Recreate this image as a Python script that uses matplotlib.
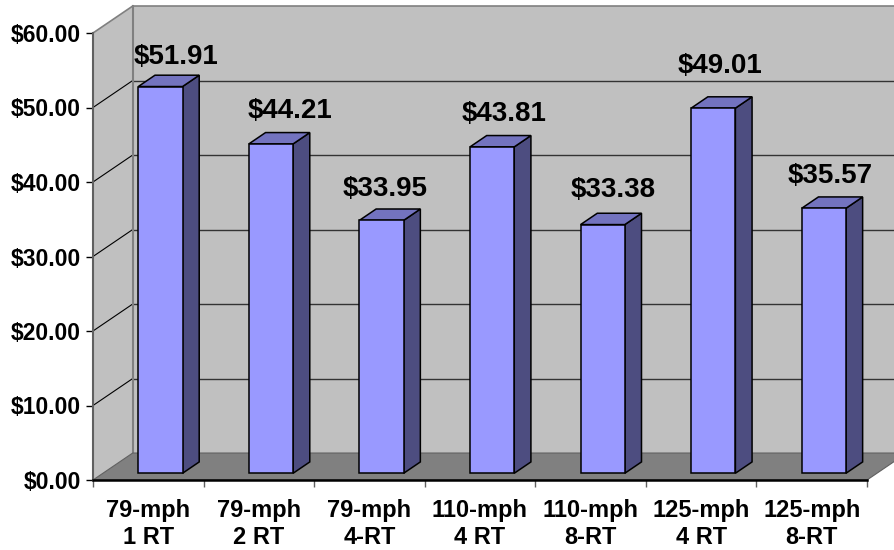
import matplotlib.pyplot as plt
from matplotlib.patches import Polygon, Rectangle

# Cost per trip by service option
categories = ['79-mph\n1 RT', '79-mph\n2 RT', '79-mph\n4-RT', '110-mph\n4 RT',
              '110-mph\n8-RT', '125-mph\n4 RT', '125-mph\n8-RT']
costs = [51.91, 44.21, 33.95, 43.81, 33.38, 49.01, 35.57]
y_ticks = [0, 10, 20, 30, 40, 50, 60]

# hand placement of each value label relative to its bar's front top
label_dx = [0.138, 0.172, 0.034, 0.109, 0.099, 0.063, 0.061]
label_dy = [3.05, 3.45, 3.22, 3.49, 3.66, 4.70, 3.44]

plt.rcParams['font.family'] = ['Liberation Sans', 'DejaVu Sans']

# oblique "3D" look: depth offset of the walls, in data units
DX, DY = 0.359, 3.62
YMAX = 60
n = len(categories)

# bar layout inside each category slot
bar_off = 0.32      # front-left edge, from the slot start
bar_w = 0.40
front_f = 0.25      # depth of the bar's front face (fraction of wall depth)
bar_f = 0.42        # bar depth (fraction of wall depth)

FRONT = '#9999FF'
TOP = '#7373BF'
SIDE = '#4D4D80'
WALL = '#C0C0C0'
FLOOR = '#808080'
EDGE = '#808080'

fig = plt.figure(figsize=(8.95, 5.5), dpi=100)
ax = fig.add_axes([93 / 895, 70 / 550, 774 / 895, 447 / 550])
ax.set_xlim(0, n)
ax.set_ylim(0, YMAX)
ax.patch.set_visible(False)

def poly(pts, fc, ec='none', lw=0, z=1):
    ax.add_patch(Polygon(pts, closed=True, facecolor=fc, edgecolor=ec,
                         linewidth=lw, zorder=z, clip_on=False))

# back wall and left side wall
poly([(DX, DY), (n + DX, DY), (n + DX, YMAX + DY), (DX, YMAX + DY)], WALL, z=0)
poly([(0, 0), (DX, DY), (DX, YMAX + DY), (0, YMAX)], WALL, z=0)

# gridlines on both walls
for v in y_ticks[1:-1]:
    ax.plot([DX, n + DX], [v + DY, v + DY], color='#333333', lw=1.0,
            zorder=1, clip_on=False)
    ax.plot([0, DX], [v, v + DY], color='black', lw=0.8, zorder=1, clip_on=False)

# wall edges
ax.plot([DX, n + DX], [YMAX + DY, YMAX + DY], color=EDGE, lw=1.2, clip_on=False, zorder=1)
ax.plot([0, DX], [YMAX, YMAX + DY], color=EDGE, lw=1.2, clip_on=False, zorder=1)
ax.plot([DX, DX], [DY, YMAX + DY], color=EDGE, lw=1.5, clip_on=False, zorder=1)

# floor
poly([(0, 0), (n, 0), (n + DX, DY), (DX, DY)], FLOOR, ec='#606060', lw=0.8, z=2)

# bars
bdx, bdy = bar_f * DX, bar_f * DY
for i, v in enumerate(costs):
    x0 = i + bar_off + front_f * DX
    y0 = front_f * DY
    x1 = x0 + bar_w
    poly([(x1, y0), (x1 + bdx, y0 + bdy), (x1 + bdx, y0 + v + bdy), (x1, y0 + v)],
         SIDE, ec='black', lw=1.1, z=3)
    poly([(x0, y0 + v), (x1, y0 + v), (x1 + bdx, y0 + v + bdy), (x0 + bdx, y0 + v + bdy)],
         TOP, ec='black', lw=1.1, z=3)
    ax.add_patch(Rectangle((x0, y0), bar_w, v, facecolor=FRONT, edgecolor='black',
                           linewidth=1.1, zorder=4, clip_on=False))
    ax.text(x0 + bar_w / 2 + label_dx[i], y0 + v + label_dy[i], '${:.2f}'.format(v),
            ha='center', va='baseline', fontsize=20, fontweight='bold', zorder=5)

# axes lines
for s in ['top', 'right']:
    ax.spines[s].set_visible(False)
ax.spines['left'].set_color('#606060')
ax.spines['left'].set_linewidth(1.5)
ax.spines['bottom'].set_color('black')
ax.spines['bottom'].set_linewidth(1.8)
ax.spines['left'].set_zorder(6)
ax.spines['bottom'].set_zorder(6)

ax.set_yticks(y_ticks)
ax.set_yticklabels(['${:.2f}'.format(t) for t in y_ticks])
ax.tick_params(axis='y', length=5, width=1, color='black', pad=3.5,
               labelsize=16.5)
for lab in ax.get_yticklabels():
    lab.set_fontweight('bold')

ax.set_xticks(range(n + 1))
ax.set_xticklabels([])
ax.tick_params(axis='x', which='major', length=5, width=1, color='#606060')
ax.set_xticks([i + 0.5 for i in range(n)], minor=True)
ax.set_xticklabels(categories, minor=True, fontsize=17, fontweight='bold',
                   linespacing=1.25)
ax.tick_params(axis='x', which='minor', length=0, pad=13.5)

fig.savefig('out.png', dpi=100)
